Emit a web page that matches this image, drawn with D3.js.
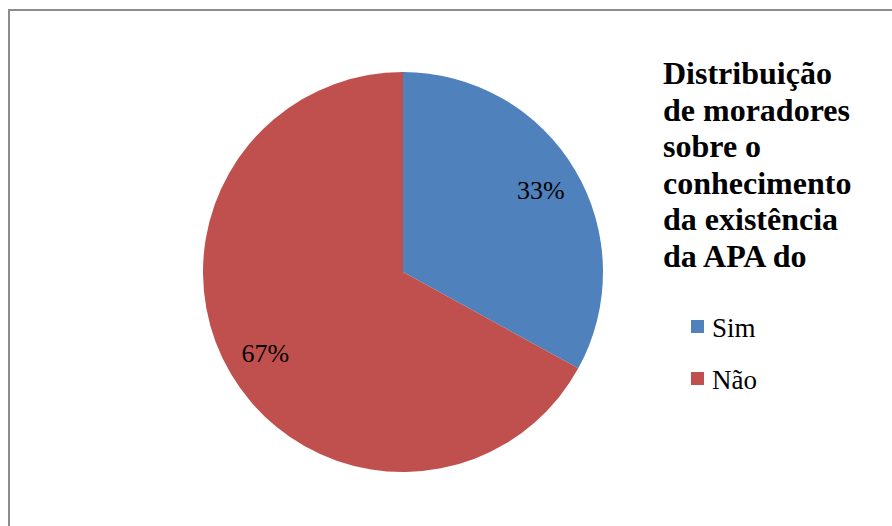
<!DOCTYPE html>
<html>
<head>
<meta charset="utf-8">
<script src="https://cdn.jsdelivr.net/npm/d3@7"></script>
<style>
  html, body { margin: 0; padding: 0; background: #fff; }
  svg { display: block; }
</style>
</head>
<body>
<svg id="chart" width="892" height="526"></svg>
<script>
// Respostas dos moradores
const categories = ["Sim", "Não"];
const values = [33, 67];
const labels = ["33%", "67%"];
const colors = ["#4F81BD", "#C0504D"];
const titleLines = ["Distribuição", "de moradores", "sobre o", "conhecimento", "da existência", "da APA do"];

const svg = d3.select("#chart");
const serif = "Liberation Serif";

// moldura do gráfico
svg.append("rect")
  .attr("x", 9).attr("y", 10)
  .attr("width", 900).attr("height", 540)
  .attr("fill", "none")
  .attr("stroke", "#8c8c8c")
  .attr("stroke-width", 2);

const cx = 403, cy = 272, r = 200;
const data = categories.map((c, i) => ({ cat: c, value: values[i], label: labels[i], color: colors[i] }));

const pie = d3.pie().value(d => d.value).sort(null);
const arc = d3.arc().innerRadius(0).outerRadius(r);
const labelArc = d3.arc().innerRadius(r * 0.8).outerRadius(r * 0.8);

const g = svg.append("g").attr("transform", `translate(${cx},${cy})`);
const arcs = pie(data);

g.selectAll("path.slice").data(arcs).enter()
  .append("path").attr("class", "slice")
  .attr("d", arc)
  .attr("fill", d => d.data.color);

g.selectAll("text.pct").data(arcs).enter()
  .append("text").attr("class", "pct")
  .attr("x", d => labelArc.centroid(d)[0])
  .attr("y", d => labelArc.centroid(d)[1])
  .attr("dy", "0.33em")
  .attr("text-anchor", "middle")
  .style("font-family", serif)
  .attr("font-size", 26)
  .attr("fill", "#000")
  .text(d => d.data.label);

// título
svg.append("g").selectAll("text").data(titleLines).enter()
  .append("text")
  .attr("x", 663)
  .attr("y", (d, i) => 84 + i * 36.6)
  .style("font-family", serif)
  .attr("font-weight", "bold")
  .attr("font-size", 32)
  .attr("fill", "#000")
  .text(d => d);

// legenda
const leg = svg.append("g").selectAll("g").data(data).enter()
  .append("g")
  .attr("transform", (d, i) => `translate(691, ${320 + i * 52})`);
leg.append("rect").attr("width", 13).attr("height", 13).attr("fill", d => d.color);
leg.append("text")
  .attr("x", 21).attr("y", 17)
  .style("font-family", serif)
  .attr("font-size", 27)
  .attr("fill", "#000")
  .text(d => d.cat);
</script>
</body>
</html>
